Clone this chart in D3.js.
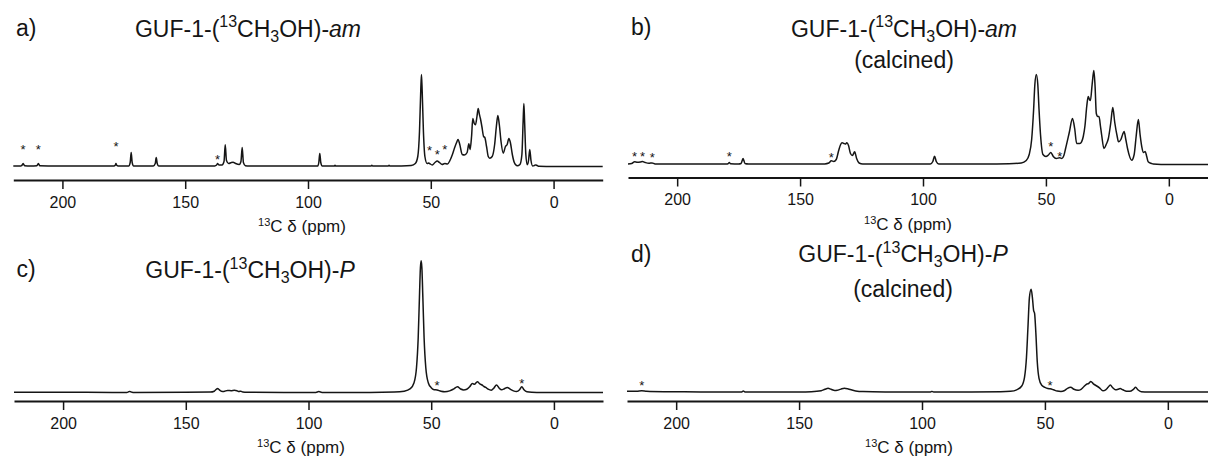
<!DOCTYPE html>
<html>
<head>
<meta charset="utf-8">
<script src="https://cdn.jsdelivr.net/npm/d3@7"></script>
<style>
  html, body { margin: 0; padding: 0; background: #fff; }
  svg { display: block; font-family: "Liberation Sans", Arial, sans-serif; }
</style>
</head>
<body>
<svg id="chart" width="1208" height="461"></svg>
<script>
// ---------------- DATA (ppm, relative intensity) ----------------
const tickValues = [200, 150, 100, 50, 0];
const ppmDomain = [220, -20];
const panelLetters = ["a)", "b)", "c)", "d)"];
const titleSuffixes = ["am", "am", "P", "P"];
const subtitles = [null, "(calcined)", null, "(calcined)"];
const axisTitle = "\u03B4 (ppm)";

const specA = [[220,0.5],[217,0.5],[216.6,0.8],[216,3],[215.4,0.8],[213,0.5],[210.4,0.8],[209.8,3],[209.2,0.8],[200,0.5],[190,0.4],[179,0.5],[178.5,1.2],[178.2,3],[177.9,1.2],[177.3,0.5],[173,0.5],[172.4,4],[172,14],[171.6,4],[171,0.5],[163,0.5],[162.2,3],[161.8,9],[161.4,3],[160.8,0.5],[145,0.4],[138,0.6],[137.2,1.5],[136.8,3],[136.3,1.5],[135,1.5],[134.2,5],[133.7,21.7],[133.2,6],[132.3,3],[131.2,4],[130.5,4.2],[129.5,3],[128,2],[127.3,5],[126.8,19],[126.3,4],[125.5,0.8],[124,0.5],[110,0.4],[96,0.5],[95.6,4],[95.2,13],[94.8,4],[94.2,0.5],[89.3,0.4],[89,1.3],[88.7,0.4],[74.3,0.4],[74,1.2],[73.7,0.4],[67.3,0.4],[67,1.2],[66.7,0.4],[62,0.5],[58,1],[56.3,3],[55.3,10],[54.6,35],[54.1,75],[53.8,92],[53.5,75],[53,35],[52.4,10],[51.5,3],[50.8,3.5],[50.5,3],[49.4,1.5],[48.3,4],[47.4,5.5],[46.5,4],[45.4,2],[44.3,3],[43.2,2.5],[42.2,6],[41.2,12],[40.4,18],[39.5,24],[38.9,27],[38.2,22],[37.2,12],[36.3,11.5],[35.2,14],[34.5,22.7],[34,17],[33.4,30],[32.9,48],[32.3,43],[31.8,41.7],[31.2,50],[30.7,58],[30.2,52],[29.8,48],[29.2,40],[28.5,30],[28,29],[27.3,20],[26.6,10],[26,8.3],[25,10],[24,22],[23.3,40],[22.7,51],[22.1,42],[21.4,25],[20.5,13.3],[19.6,20],[18.9,22],[18.2,28],[17.6,24],[16.8,12],[16,4],[14.8,0.7],[13.7,2],[12.9,12],[12.4,45],[12.1,63],[11.8,45],[11.3,12],[10.7,1.7],[10.2,6],[9.7,17],[9.2,6],[8.5,0.5],[7.8,1],[7.3,1.6],[6.7,1],[6,0.2],[0,0],[-20,0]];

const specB = [[220,0.5],[218.5,1],[217.3,2.7],[216.2,2.3],[215,2.5],[214.1,3],[213,2],[211.5,1.2],[210.2,1.6],[209,0.5],[200,0.4],[180,0.5],[179.3,0.8],[178.8,2],[178.3,0.8],[175,0.5],[174,1],[173.2,6],[172.4,1],[171,0.5],[150,0.5],[140,0.6],[138.3,1.5],[137.3,3.7],[136.3,3],[135.3,5],[134.3,14],[133.5,20],[132.9,21.7],[132.2,21],[131.6,20.5],[131,21.7],[130.3,19],[129.5,11],[128.7,9],[127.8,12.7],[127,6],[126,1.5],[124.5,0.5],[110,0.4],[97,0.5],[96,3],[95.3,8.3],[94.6,3],[93.6,0.5],[75,0.5],[65,0.8],[60,1.5],[58,4],[56.8,10],[55.8,25],[55,55],[54.5,80],[53.9,90],[53.3,80],[52.8,55],[52.2,30],[51.2,10],[50,8],[49,9.5],[48,12],[47,8],[45.8,6],[44.4,6.7],[43.5,6],[42.7,9],[42,16],[40.5,32],[39.2,46],[38.3,36],[37.5,21],[36.2,21],[35.5,22.7],[34.8,28],[34.1,39],[33.4,58],[32.8,68],[32.3,65],[31.9,64],[31.2,80],[30.5,94],[30,78],[29.5,51],[28.9,48],[28.4,48],[27.8,38],[27.3,29],[26.4,16],[25.5,20],[24.6,26],[23.6,42],[22.8,57],[22,42],[21,28],[20.5,22.7],[19.5,25],[18.8,30],[18.2,33],[17.5,25],[16.8,16],[15.1,4.3],[14.1,10],[13.3,28],[12.4,45],[11.7,30],[11,17.7],[10.3,12],[9.6,13],[9,8],[8.4,2.7],[7,1],[6.4,0.5],[0,0],[-20,0]];

const specC = [[220,0.5],[200,0.4],[180,0.3],[174,0.3],[173.4,0.8],[172.9,1.3],[172.4,0.8],[171.5,0.3],[150,0.4],[140,0.6],[138.4,1.5],[137.5,3.5],[137,4.3],[136.4,3],[135.5,1.5],[134.5,1.3],[133,2.3],[131.5,2],[130.2,2.4],[129.2,2],[128.3,1.2],[127.6,1.5],[126.8,0.8],[125,0.4],[110,0.3],[97,0.3],[95.8,1.1],[94.5,0.3],[75,0.3],[65,0.6],[61,1.5],[58.5,4],[57,10],[56,25],[55.3,55],[54.8,95],[54.4,125],[54.1,132],[53.8,125],[53.4,95],[52.9,55],[52.2,25],[51.2,10],[50,5],[48.8,3],[47.6,2.7],[46,1.5],[44.5,1],[42.5,1.8],[41,3.5],[39.3,6],[38,3.7],[36.8,2.8],[35.5,3.5],[34.3,6],[33.2,9.3],[32.4,8.5],[31.2,11],[30.2,8.8],[29.3,7.7],[28.5,6.2],[27.8,5.3],[26.8,3.5],[25.5,2.5],[24.5,4.5],[23.4,7.7],[22.3,4.5],[21.3,3],[20.2,4],[19,5.3],[17.8,3.5],[16.5,1.8],[15.2,1.2],[14,3],[13.1,6],[12.2,3],[11,1],[9,0.5],[5,0.3],[-20,0.3]];

const specD = [[220,1],[216,1.1],[214,1.5],[212,1],[205,0.6],[190,0.4],[180,0.3],[173.5,0.3],[172.7,1.2],[171.8,0.3],[150,0.4],[145,0.6],[141,1.5],[139.5,3],[138.2,4],[137,3],[135.5,1.8],[134.5,2],[133,3.2],[131.6,4],[130,3.3],[128.5,2.2],[127,1.4],[124,0.7],[115,0.4],[100,0.3],[96.5,0.4],[96,0.9],[95.3,0.3],[80,0.3],[68,0.5],[64,1],[61.5,2.5],[59.5,6],[58.3,15],[57.5,35],[56.9,65],[56.3,95],[55.6,103],[55.1,95],[54.6,82],[54.2,79],[53.7,60],[53.1,30],[52.4,14],[51.3,7],[50,5],[48.8,3.8],[47.9,3.5],[46.5,2.5],[45,1.2],[43.5,0.8],[42,1.8],[40.8,4],[39.5,5],[38.2,3],[36.5,2],[35.3,3],[34.2,5.5],[32.9,8.3],[32.2,8.8],[31.3,10.7],[30.3,8.5],[28.9,6.3],[27.8,4.5],[26.4,1.5],[25.3,2.5],[24.3,5],[23.4,7.3],[22.4,4.5],[21.3,2.5],[20.3,3],[19.4,3.7],[18.3,2.5],[16.8,1],[15.5,1],[14,3],[13.1,5],[12.2,2.5],[10.8,0.5],[8,0.3],[-20,0.3]];

// spinning sideband markers (*) : [ppm, intensity level of the marker]
const starsA = [[216,20],[209.8,20],[178.2,22.7],[136.8,10],[50.5,18.4],[47.4,14.4],[44.3,20]];
const starsB = [[217.3,10.5],[214.1,10.5],[210.1,10],[178.8,10.5],[137.3,9.5],[48,21],[44.4,10.5]];
const starsC = [[47.6,9.4],[13.1,12]];
const starsD = [[214,9],[47.9,9.6]];

// ---------------- LAYOUT ----------------
const layout = [
  {spec: specA, stars: starsA, x0: 13.3, x1: 602.7, axisY: 180,   baseY: 166.5, lx: 16,  ly: 36,  tx: 248, ty: 36.5, t2y: null, alx: 302, aly: 232},
  {spec: specB, stars: starsB, x0: 628,  x1: 1218,  axisY: 177.5, baseY: 164.5, lx: 631, ly: 35,  tx: 904, ty: 36.5, t2y: 68,   alx: 908, aly: 229.5},
  {spec: specC, stars: starsC, x0: 14,   x1: 603,   axisY: 401,   baseY: 392.7, lx: 16.5,ly: 277, tx: 250, ty: 278,  t2y: null, alx: 301, aly: 453},
  {spec: specD, stars: starsD, x0: 627,  x1: 1217,  axisY: 401,   baseY: 392.3, lx: 631, ly: 262, tx: 903, ty: 262,  t2y: 297,  alx: 909, aly: 453}
];

const svg = d3.select("#chart");
const ink = "#151515";

layout.forEach((p, i) => {
  const g = svg.append("g");
  const x = d3.scaleLinear().domain(ppmDomain).range([p.x0, p.x1]);
  const y = d3.scaleLinear().domain([0, 100]).range([p.baseY, p.baseY - 100]);

  // spectrum
  const line = d3.line()
    .x(d => x(d[0]))
    .y(d => y(d[1]))
    .curve(d3.curveMonotoneX);
  g.append("path")
    .datum(p.spec)
    .attr("d", line)
    .attr("fill", "none")
    .attr("stroke", ink)
    .attr("stroke-width", 1.5)
    .attr("stroke-linejoin", "round");

  // asterisks
  g.selectAll("text.star")
    .data(p.stars)
    .join("text")
    .attr("class", "star")
    .attr("x", d => x(d[0]))
    .attr("y", d => y(d[1]))
    .attr("dy", "0.55em")
    .attr("text-anchor", "middle")
    .style("font-size", "13px")
    .attr("fill", ink)
    .text("*");

  // axis
  const axis = d3.axisBottom(x)
    .tickValues(tickValues)
    .tickFormat(d3.format("d"))
    .tickSize(9)
    .tickSizeOuter(0)
    .tickPadding(7.5);
  const ag = g.append("g")
    .attr("transform", `translate(0,${p.axisY})`)
    .call(axis);
  ag.select(".domain").attr("stroke", ink).attr("stroke-width", 1.8);
  ag.selectAll(".tick line").attr("stroke", ink).attr("stroke-width", 1.5);
  ag.selectAll(".tick text")
    .attr("fill", ink)
    .style("font-size", "16px")
    .style("font-family", "'Liberation Sans', Arial, sans-serif");

  // axis title
  const at = g.append("text")
    .attr("x", p.alx).attr("y", p.aly)
    .attr("text-anchor", "middle")
    .attr("fill", ink)
    .style("font-size", "17px");
  at.append("tspan").attr("dy", -6).style("font-size", "11px").text("13");
  at.append("tspan").attr("dy", 6).text("C " + axisTitle);

  // panel letter
  g.append("text")
    .attr("x", p.lx).attr("y", p.ly)
    .attr("fill", ink)
    .style("font-size", "23px")
    .text(panelLetters[i]);

  // title
  const t = g.append("text")
    .attr("x", p.tx).attr("y", p.ty)
    .attr("text-anchor", "middle")
    .attr("fill", ink)
    .style("font-size", "23px");
  t.append("tspan").text("GUF-1-(");
  t.append("tspan").attr("dy", -9.5).style("font-size", "16px").text("13");
  t.append("tspan").attr("dy", 9.5).text("CH");
  t.append("tspan").attr("dy", 5).style("font-size", "16px").text("3");
  t.append("tspan").attr("dy", -5).text("OH)-");
  t.append("tspan").style("font-style", "italic").text(titleSuffixes[i]);

  if (subtitles[i]) {
    g.append("text")
      .attr("x", p.tx).attr("y", p.t2y)
      .attr("text-anchor", "middle")
      .attr("fill", ink)
      .style("font-size", "23px")
      .text(subtitles[i]);
  }
});
</script>
</body>
</html>
